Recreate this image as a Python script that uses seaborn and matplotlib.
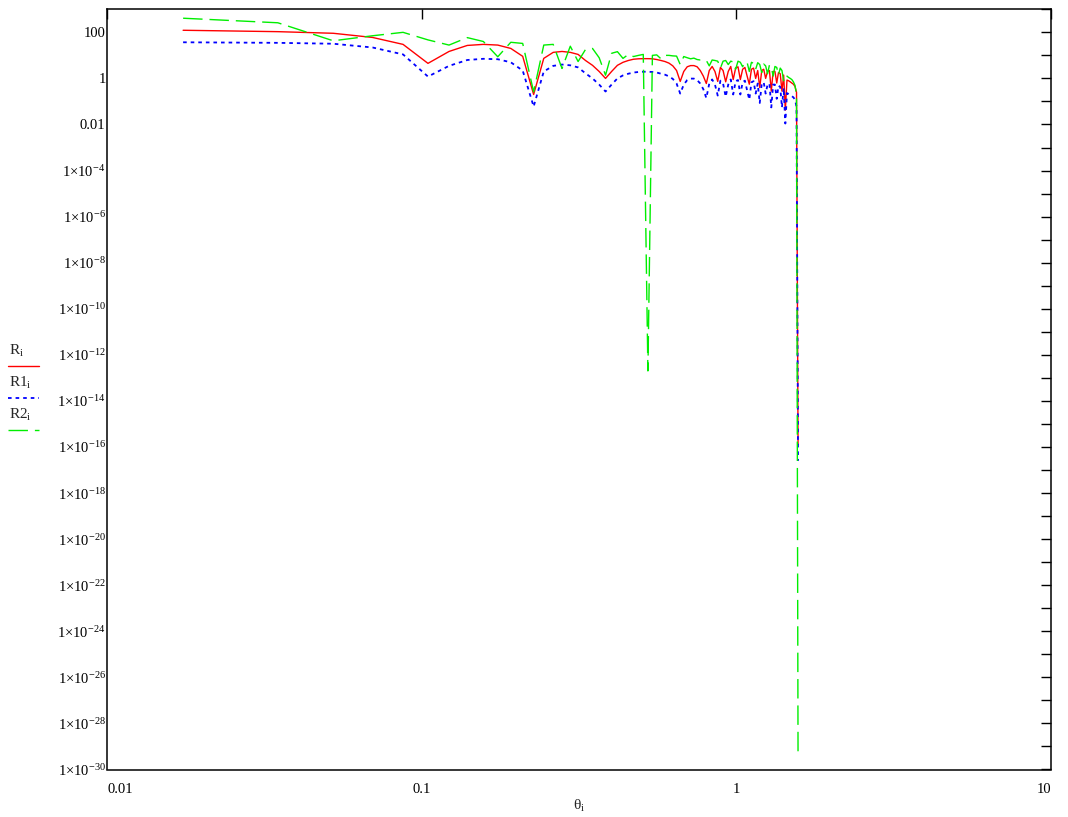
import numpy as np
import pandas as pd
import matplotlib
matplotlib.use("Agg")
import matplotlib.pyplot as plt
from matplotlib.lines import Line2D
from matplotlib.ticker import FixedLocator, FuncFormatter
import seaborn as sns

# ---------------- data ----------------
theta_deg = np.arange(1, 91)          # theta_i sampled every degree
theta = np.deg2rad(theta_deg)         # radians on the x axis

R = [1.23e2, 1.07e2, 9.1e1, 6.0e1, 3.0e1, 4.5, 1.48e1, 2.7e1, 3.0e1, 2.8e1,
     2.0e1, 9.1, 2.0e-1, 7.4, 1.35e1, 1.48e1, 1.35e1, 1.1e1, 6.0, 3.7,
     2.0, 1.0, 2.0, 3.7, 5.0, 6.0, 6.8, 7.1, 7.2, 7.2,
     7.1, 6.6, 6.0, 5.4, 4.6, 3.5, 2.2, 7.4e-1, 2.0, 3.2,
     3.6, 3.6, 3.2, 2.2, 1.26, 6.0e-1, 2.2, 3.3, 2.0, 7.4e-1,
     3.0, 2.2, 7.1e-1, 2.0, 3.3, 8.9e-1, 2.8, 3.2, 8.9e-1, 2.5,
     3.0, 1.26, 5.6e-1, 2.5, 2.8, 1.0, 2.2, 4.0e-1, 2.2, 2.5,
     1.0, 2.0, 2.2, 2.8e-1, 2.0, 2.0, 6.3e-1, 1.8, 1.6, 2.8e-1,
     1.4, 4.2e-2, 8.5e-1, 7.9e-1, 7.1e-1, 6.3e-1, 5.6e-1, 4.5e-1, 2.5e-1, 1.3e-16]

R1 = [3.7e1, 3.5e1, 3.2e1, 2.2e1, 1.1e1, 1.2, 3.5, 6.3, 7.1, 6.8,
      5.0, 2.2, 6.0e-2, 2.0, 3.5, 4.0, 3.7, 3.0, 1.66, 1.0,
      5.4e-1, 2.7e-1, 5.4e-1, 1.0, 1.35, 1.6, 1.8, 1.9, 1.95, 1.95,
      1.9, 1.8, 1.6, 1.45, 1.23, 9.5e-1, 6.0e-1, 2.2e-1, 5.4e-1, 8.5e-1,
      9.8e-1, 9.8e-1, 8.5e-1, 6.0e-1, 3.4e-1, 1.4e-1, 6.0e-1, 9.0e-1, 5.4e-1, 1.8e-1,
      8.0e-1, 6.0e-1, 1.6e-1, 5.4e-1, 9.0e-1, 2.0e-1, 7.6e-1, 8.5e-1, 2.0e-1, 6.8e-1,
      8.0e-1, 3.0e-1, 1.2e-1, 6.8e-1, 7.6e-1, 2.2e-1, 6.0e-1, 8.5e-2, 6.0e-1, 6.8e-1,
      2.2e-1, 5.4e-1, 6.0e-1, 5.5e-2, 5.4e-1, 5.4e-1, 1.3e-1, 4.8e-1, 4.3e-1, 5.5e-2,
      3.8e-1, 1.1e-2, 2.3e-1, 2.1e-1, 1.9e-1, 1.7e-1, 1.5e-1, 1.2e-1, 6.0e-2, 2.5e-17]

R2 = [4.1e2, 2.6e2, 4.3e1, 7.1e1, 1.0e2, 4.7e1, 2.8e1, 5.9e1, 4.0e1, 8.7,
      3.7e1, 3.3e1, 2.6e-1, 2.8e1, 3.0e1, 2.7, 2.5e1, 5.4, 1.8e1, 2.0e1,
      7.9, 1.38, 1.23e1, 1.45e1, 7.4, 1.1e1, 8.9, 1.0e1, 1.1e1, 2.0e-13,
      1.0e1, 1.05e1, 7.1, 1.0e1, 1.0e1, 9.5, 9.3, 4.0, 8.9, 7.9,
      7.1, 7.6, 6.6, 6.3, 6.3, 6.0, 3.5, 6.3, 6.0, 5.6,
      2.8, 5.6, 6.0, 4.0, 5.6, 5.2, 2.5, 5.6, 5.0, 3.2,
      5.2, 5.0, 2.0, 5.0, 4.5, 2.5, 4.8, 4.0, 1.8, 4.2,
      3.5, 1.6, 3.8, 3.2, 1.26, 3.3, 3.0, 1.4, 2.8, 2.2,
      7.9e-1, 1.4, 1.26, 1.1, 1.0, 8.9e-1, 7.1e-1, 5.0e-1, 2.0e-1, 4.0e-30]

series_labels = ["R", "R1", "R2"]
series_colors = ["#ff0000", "#0000ff", "#00ee00"]

x_tick_values = [0.01, 0.1, 1, 10]
x_tick_labels = ["0.01", "0.1", "1", "10"]
y_exponents = list(range(-30, 4))

# ---------------- style ----------------
sns.set_style("white")
plt.rcParams["font.family"] = ["Liberation Serif", "DejaVu Serif"]
plt.rcParams["mathtext.fontset"] = "custom"
plt.rcParams["mathtext.rm"] = "Liberation Serif"
plt.rcParams["mathtext.it"] = "Liberation Serif"
plt.rcParams["mathtext.bf"] = "Liberation Serif"

fig = plt.figure(figsize=(10.68, 8.17), dpi=100)
ax = fig.add_axes([107 / 1068, 1 - 769.5 / 817, (1051 - 107) / 1068, (769.5 - 9.3) / 817])

df = pd.DataFrame({"theta": theta, "R": R, "R1": R1, "R2": R2})

styles = {
    "R": dict(linestyle="-", linewidth=1.0),
    "R1": dict(linestyle=(0, (2.0, 2.2)), linewidth=1.3),
    "R2": dict(linestyle=(0, (14, 5)), linewidth=1.0),
}
for name, col in zip(series_labels, series_colors):
    sns.lineplot(data=df, x="theta", y=name, ax=ax, color=col, sort=False,
                 estimator=None, legend=False, **styles[name])

ax.set_xscale("log")
ax.set_yscale("log")
ax.set_xlim(0.01, 10)
ax.set_ylim(1e-30, 1e3)

# x ticks
ax.xaxis.set_major_locator(FixedLocator(x_tick_values))
ax.set_xticklabels(x_tick_labels)
ax.xaxis.set_minor_locator(FixedLocator([]))

# y ticks: every decade, label every second
ax.yaxis.set_major_locator(FixedLocator([10.0 ** e for e in y_exponents]))
ax.yaxis.set_minor_locator(FixedLocator([]))


def ylab(v, pos):
    e = int(round(np.log10(v)))
    if e % 2 != 0 or e > 2:
        return ""
    if e == 2:
        return "100"
    if e == 0:
        return "1"
    if e == -2:
        return "0.01"
    return r"$1{\times}10^{%d}$" % e


ax.yaxis.set_major_formatter(FuncFormatter(ylab))
ax.tick_params(axis="both", which="major", direction="in", length=7, width=1,
               top=True, right=True, labelsize=10.5, colors="black")
ax.tick_params(axis="x", pad=10)
ax.tick_params(axis="y", pad=1)

xl = ax.get_xticklabels()
xl[0].set_horizontalalignment("left")
xl[-1].set_horizontalalignment("right")

for s in ax.spines.values():
    s.set_color("black")
    s.set_linewidth(1.1)

ax.set_xlabel(r"θ$_{\mathrm{i}}$", fontsize=11, labelpad=1)
ax.set_ylabel("")

# legend drawn at the left outside the plot, as in the reference
leg_y_text = [351, 383, 415]
leg_y_line = [366, 398, 430]
leg_text = [r"R$_{\mathrm{i}}$", r"R1$_{\mathrm{i}}$", r"R2$_{\mathrm{i}}$"]
for t, yt, yl, name, col in zip(leg_text, leg_y_text, leg_y_line, series_labels, series_colors):
    fig.text(9 / 1068, 1 - yt / 817, t, fontsize=11, va="center", ha="left")
    fig.add_artist(Line2D([8 / 1068, 39 / 1068], [1 - yl / 817, 1 - yl / 817],
                          color=col, transform=fig.transFigure, **styles[name]))

fig.savefig("out.png", dpi=100)
